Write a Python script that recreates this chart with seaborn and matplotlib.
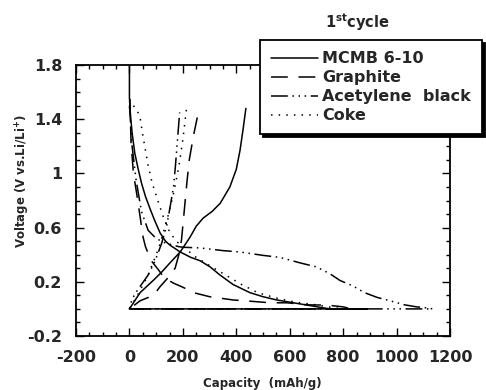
import numpy as np
import pandas as pd
import matplotlib
matplotlib.use("Agg")
import matplotlib.pyplot as plt
from matplotlib.ticker import MultipleLocator, FixedLocator
import seaborn as sns

# ---------------- data ----------------
materials = ["MCMB 6-10", "Graphite", "Acetylene  black", "Coke"]

# MCMB 6-10: discharge, hold at 0 V, back along 0 V, charge
mcmb_cap = [0, 0, 3, 10, 20, 33, 45, 60, 77, 95, 115, 135, 152, 175, 190, 230, 265,
            302, 339, 388, 451, 500, 551, 638, 713, 750, 890,
            0,
            10, 40, 89, 120, 152, 190, 227, 250, 276, 310, 340, 376, 400, 414, 425, 436]
mcmb_v = [1.80, 1.56, 1.45, 1.30, 1.15, 1.03, 0.93, 0.83, 0.74, 0.65, 0.56, 0.50, 0.47, 0.44, 0.42, 0.38, 0.355,
          0.31, 0.25, 0.18, 0.12, 0.09, 0.066, 0.037, 0.012, 0.0, 0.0,
          0.0,
          0.03, 0.12, 0.21, 0.27, 0.34, 0.42, 0.53, 0.61, 0.67, 0.72, 0.78, 0.90, 1.03, 1.17, 1.32, 1.48]

graphite_cap = [2, 6, 15, 28, 40, 51, 60, 80, 108, 130, 165, 200, 240, 300, 388, 445, 527,
                590, 665, 740, 800, 830,
                0,
                40, 90, 115, 140, 171, 185, 195, 205, 215, 224, 240, 261]
graphite_v = [1.55, 1.23, 1.00, 0.84, 0.68, 0.53, 0.46, 0.36, 0.29, 0.23, 0.19, 0.16, 0.12, 0.09, 0.066, 0.058, 0.045,
              0.045, 0.03, 0.028, 0.015, 0.0,
              0.0,
              0.06, 0.10, 0.165, 0.22, 0.30, 0.40, 0.51, 0.72, 0.93, 1.10, 1.28, 1.48]

acet_cap = [0, 10, 25, 45, 70, 100, 130, 183, 200, 264, 351, 414, 500, 564, 638, 700, 750,
            788, 836, 880, 927, 975, 1030, 1075, 1124, 1135,
            0,
            8, 20, 45, 70, 95, 120, 140, 152, 165, 172, 180, 188]
acet_v = [1.50, 1.20, 0.95, 0.72, 0.58, 0.52, 0.49, 0.46, 0.455, 0.45, 0.43, 0.42, 0.395, 0.38, 0.34, 0.31, 0.26,
          0.21, 0.17, 0.12, 0.085, 0.06, 0.03, 0.015, 0.005, 0.0,
          0.0,
          0.06, 0.11, 0.18, 0.25, 0.35, 0.48, 0.62, 0.75, 0.90, 1.05, 1.25, 1.45]

coke_cap = [15, 28, 40, 51, 70, 85, 108, 130, 150, 175, 200, 250, 300, 360, 420, 480, 550,
            620, 700, 760, 800,
            0,
            30, 70, 110, 140, 165, 185, 200, 215]
coke_v = [1.50, 1.47, 1.41, 1.27, 1.06, 0.93, 0.79, 0.66, 0.57, 0.50, 0.46, 0.38, 0.32, 0.25, 0.18, 0.12, 0.08,
          0.05, 0.03, 0.01, 0.0,
          0.0,
          0.10, 0.25, 0.45, 0.65, 0.85, 1.05, 1.25, 1.50]

x_ticks = [-200, 0, 200, 400, 600, 800, 1000, 1200]
y_ticks = [-0.2, 0.2, 0.6, 1.0, 1.4, 1.8]
y_ticklabels = ["-0.2", "0.2", "0.6", "1", "1.4", "1.8"]

# ---------------- build table ----------------
frames = []
for name, c, v in [(materials[0], mcmb_cap, mcmb_v), (materials[1], graphite_cap, graphite_v),
                   (materials[2], acet_cap, acet_v), (materials[3], coke_cap, coke_v)]:
    frames.append(pd.DataFrame({"Capacity": c, "Voltage": v, "material": name}))
df = pd.concat(frames, ignore_index=True)

sns.set_theme(style="ticks")
plt.rcParams["font.family"] = ["DejaVu Sans"]
plt.rcParams["mathtext.default"] = "regular"
plt.rcParams["axes.unicode_minus"] = False

fig = plt.figure(figsize=(4.86, 3.90), dpi=100)
ax = fig.add_axes([76 / 486, 1 - 336 / 390, (450 - 76) / 486, (336 - 65) / 390])

dashes = {materials[0]: "", materials[1]: (11, 7),
          materials[2]: (11, 3, 1, 3, 1, 3, 1, 3), materials[3]: (1, 4)}
palette = {m: "black" for m in materials}
sns.lineplot(data=df, x="Capacity", y="Voltage", hue="material", style="material",
             hue_order=materials, style_order=materials, palette=palette, dashes=dashes,
             sort=False, estimator=None, lw=1.1, ax=ax)

ax.set_xlim(-200, 1200)
ax.set_ylim(-0.2, 1.8)
ax.xaxis.set_major_locator(FixedLocator(x_ticks))
ax.xaxis.set_minor_locator(MultipleLocator(50))
ax.yaxis.set_major_locator(FixedLocator(y_ticks))
ax.set_yticklabels(y_ticklabels)
ax.yaxis.set_minor_locator(MultipleLocator(0.1))
ax.tick_params(which="both", direction="in", top=True, right=True, color="black", width=1)
ax.tick_params(which="major", length=6)
ax.tick_params(which="minor", length=3)
ax.tick_params(axis="x", which="major", pad=10, labelsize=11.5)
ax.tick_params(axis="y", which="major", pad=10, labelsize=11.5)
for lab in ax.get_xticklabels() + ax.get_yticklabels():
    lab.set_fontweight("bold")
for s in ax.spines.values():
    s.set_color("black")
    s.set_linewidth(1.3)

ax.set_xlabel("Capacity  (mAh/g)", fontsize=8.5, fontweight="bold")
ax.set_ylabel("Voltage (V vs.Li/Li$^{+}$)", fontsize=8.5, fontweight="bold")
ax.xaxis.set_label_coords((262 - 76) / 374, -(377 - 336) / 271)
ax.yaxis.set_label_coords(-(76 - 32) / 374, (336 - 181) / 271)

old = ax.get_legend()
handles = old.legend_handles
labels = [t.get_text() for t in old.get_texts()]
old.remove()
for h in handles:
    h.set_color("black")
    h.set_linewidth(1.1)
leg = ax.legend(handles, labels, loc="upper left", bbox_to_anchor=(260 / 486, 1 - 40 / 390),
                bbox_transform=fig.transFigure, borderaxespad=0, fontsize=11.5,
                handlelength=2.9, handletextpad=0.3, labelspacing=0.25, borderpad=0.7,
                frameon=True, fancybox=False, edgecolor="black", framealpha=1,
                shadow={"color": "black", "alpha": 1})
leg.get_frame().set_linewidth(1.3)
for t in leg.get_texts():
    t.set_fontweight("bold")

fig.text(357 / 486, 1 - 22 / 390, "1$^{st}$cycle", ha="center", va="center",
         fontsize=10.5, fontweight="bold")

fig.savefig("out.png", dpi=100)
